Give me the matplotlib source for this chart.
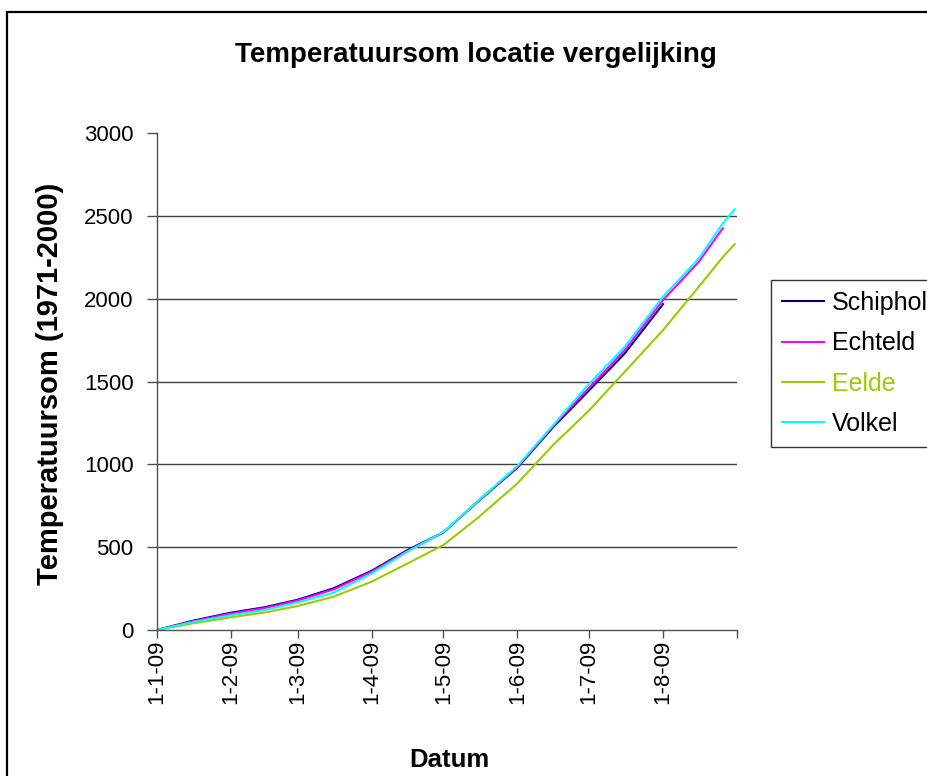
import matplotlib
matplotlib.use('Agg')
from matplotlib import pyplot as plt
from matplotlib.patches import Rectangle
from datetime import datetime

plt.rcParams['font.family'] = ['Liberation Sans', 'DejaVu Sans']

dagen = ['2009-01-01', '2009-01-16', '2009-02-01', '2009-02-15', '2009-03-01',
         '2009-03-16', '2009-04-01', '2009-04-16', '2009-05-01', '2009-05-16',
         '2009-06-01', '2009-06-16', '2009-07-01', '2009-07-16', '2009-08-01',
         '2009-08-16', '2009-08-26', '2009-08-31']
schiphol = [0, 56, 105, 137, 183, 252, 358, 483, 590, 782, 980, 1225, 1446,
            1670, 1967]
echteld = [0, 52, 100, 132, 178, 245, 352, 478, 588, 785, 985, 1232, 1462,
           1690, 1991, 2223, 2424]
eelde = [0, 40, 77, 105, 145, 201, 292, 402, 513, 684, 885, 1117, 1325,
         1559, 1810, 2072, 2250, 2329]
volkel = [0, 48, 89, 120, 167, 225, 342, 473, 592, 785, 990, 1237, 1485,
          1710, 2012, 2243, 2454, 2539]

reeksen = [('Schiphol', schiphol, '#000080'),
           ('Echteld', echteld, '#FF00FF'),
           ('Eelde', eelde, '#99CC00'),
           ('Volkel', volkel, '#00FFFF')]

maand_ticks = ['2009-%02d-01' % m for m in range(1, 10)]
maand_labels = ['1-1-09', '1-2-09', '1-3-09', '1-4-09', '1-5-09', '1-6-09',
                '1-7-09', '1-8-09', '']

x = [datetime.strptime(d, '%Y-%m-%d') for d in dagen]

fig = plt.figure(figsize=(9.27, 7.76), dpi=100)
ax = fig.add_axes([157 / 927, 1 - 630 / 776, 580 / 927, 497 / 776])

for naam, waarden, kleur in reeksen:
    ax.plot(x[:len(waarden)], waarden, color=kleur, linewidth=1.5, label=naam)

ax.set_ylim(0, 3000)
ax.set_yticks(range(0, 3001, 500))
ax.set_xlim(datetime(2009, 1, 1), datetime(2009, 9, 1))
ax.set_xticks([datetime.strptime(d, '%Y-%m-%d') for d in maand_ticks])
ax.set_xticklabels(maand_labels, rotation=90)

for v in range(500, 3000, 500):
    ax.axhline(v, color='#404040', linewidth=1.0, zorder=0)

for s in ['top', 'right']:
    ax.spines[s].set_visible(False)
for s in ['left', 'bottom']:
    ax.spines[s].set_color('#505050')
    ax.spines[s].set_linewidth(1.0)

ax.tick_params(axis='y', direction='out', length=7, width=1, color='#505050',
               labelsize=16, pad=10)
ax.tick_params(axis='x', direction='out', length=6, width=1, color='#505050',
               labelsize=16, pad=1)

fig.text(0.5135, 0.929, 'Temperatuursom locatie vergelijking', ha='center',
         va='center', fontsize=20, fontweight='bold')
fig.text(0.054, 0.506, 'Temperatuursom (1971-2000)', ha='center', va='center',
         rotation=90, fontsize=21, fontweight='bold')
fig.text(0.485, 0.021, 'Datum', ha='center', va='center', fontsize=18.5,
         fontweight='bold')

leg = fig.legend(loc='upper left', bbox_to_anchor=(771 / 927, 1 - 280 / 776),
                 fontsize=18, frameon=True, fancybox=False, shadow=False,
                 handlelength=1.68, handletextpad=0.32, borderpad=0.44,
                 labelspacing=0.65, borderaxespad=0)
leg.get_frame().set_edgecolor('black')
leg.get_frame().set_linewidth(1.0)
leg.get_texts()[2].set_color('#99CC00')

# rand om de grafiek (rechts en onder buiten beeld)
fig.patches.append(Rectangle((7.5 / 927, -0.05), 1.1, 1 - 12.5 / 776 + 0.05,
                             transform=fig.transFigure, fill=False,
                             edgecolor='black', linewidth=1.6))

fig.savefig('out.png', dpi=100)
